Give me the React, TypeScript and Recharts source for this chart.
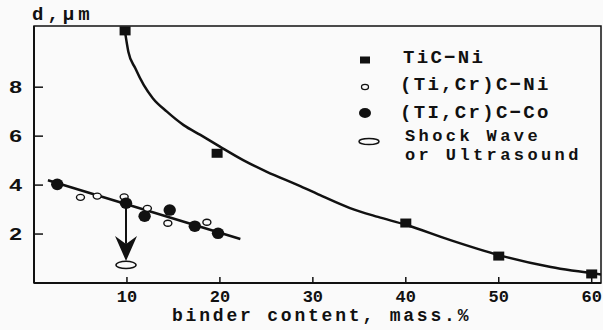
import React from 'react';
import { ComposedChart, Line, Scatter, XAxis, YAxis, ReferenceLine, ReferenceArea } from 'recharts';

const xTicks = [10, 20, 30, 40, 50, 60];
const yTicks = [2, 4, 6, 8];

const ticNiX = [9.8, 19.7, 40, 50, 60];
const ticNiY = [10.3, 5.3, 2.45, 1.1, 0.37];

const tiCrNiX = [5.0, 6.8, 9.7, 12.2, 14.4, 18.6];
const tiCrNiY = [3.5, 3.55, 3.52, 3.05, 2.44, 2.48];

const tiCrCoX = [2.5, 9.9, 11.9, 14.6, 17.3, 19.8];
const tiCrCoY = [4.03, 3.26, 2.73, 2.98, 2.32, 2.03];

const shockX = [9.9];
const shockY = [0.74];

const curveX = [9.8, 10.15, 10.9, 11.8, 12.8, 14.3, 16.1, 17.9, 20, 22.5, 25, 28.7, 31, 34, 37, 40, 44.8, 50, 55.6, 61];
const curveY = [10.25, 9.45, 8.77, 8.09, 7.54, 7.0, 6.45, 6.05, 5.57, 5.02, 4.55, 3.95, 3.55, 3.06, 2.7, 2.38, 1.75, 1.14, 0.65, 0.35];

const fitX = [1.5, 22.2];
const fitY = [4.2, 1.8];

const arrowX = [9.9];
const arrowTopY = [3.26];
const arrowTipY = [0.9];

const legendLabels = ['TiC\u2212Ni', '(Ti,Cr)C\u2212Ni', '(TI,Cr)C\u2212Co', 'Shock Wave', 'or Ultrasound'];
const xLabel = 'binder content, mass.%';
const yLabel = 'd,\u03bcm';

const toPts = (xs: number[], ys: number[]) => xs.map((x, i) => ({ x, y: ys[i] }));

const INK = '#111';
const MONO = "'Liberation Mono', 'DejaVu Sans Mono', monospace";
const SANS = "'Liberation Sans', Arial, sans-serif";

const YTick = (props: any) => {
  const { x, y, payload } = props;
  return (
    <g>
      <line x1={x} x2={x + 9} y1={y} y2={y} stroke={INK} strokeWidth={1.5} />
      <g transform={`translate(${x - 18.5},${y + 6}) scale(1.35,1)`}>
        <text x={0} y={0} textAnchor="middle" fontFamily={SANS} fontWeight={700} fontSize={17} fill={INK}>
          {payload.value}
        </text>
      </g>
    </g>
  );
};

const XTick = (props: any) => {
  const { x, y, payload } = props;
  return (
    <g>
      <line x1={x} x2={x} y1={y} y2={y - 6} stroke={INK} strokeWidth={1.5} />
      <text x={x} y={y + 19} textAnchor="middle" fontFamily={MONO} fontWeight="bold" fontSize={17} fill={INK}>
        {payload.value}
      </text>
    </g>
  );
};

const SquareShape = (p: any) => <rect x={p.cx - 5.5} y={p.cy - 4.5} width={11} height={9} fill={INK} />;
const OpenCircle = (p: any) => (
  <ellipse cx={p.cx} cy={p.cy} rx={4} ry={3} fill="#fafafa" stroke={INK} strokeWidth={1.4} />
);
const FilledCircle = (p: any) => <ellipse cx={p.cx} cy={p.cy} rx={6.2} ry={5.8} fill={INK} />;
const ShockShape = (p: any) => (
  <ellipse cx={p.cx} cy={p.cy} rx={10} ry={3.6} fill="#fafafa" stroke={INK} strokeWidth={1.5} />
);
const ArrowHead = (p: any) => {
  const { cx, cy } = p;
  return <polygon points={`${cx},${cy} ${cx - 11},${cy - 25} ${cx},${cy - 17} ${cx + 11},${cy - 25}`} fill={INK} />;
};

export default function App() {
  const rows = [63, 90, 118, 141, 160];
  return (
    <div style={{ position: 'absolute', left: 0, top: 0, width: 603, height: 330, background: '#fafafa' }}>
      <ComposedChart width={603} height={330} margin={{ top: 26, right: 2, bottom: 17, left: 4 }}>
        <XAxis
          type="number"
          dataKey="x"
          domain={[0, 61]}
          ticks={xTicks}
          allowDataOverflow
          height={30}
          tickSize={0}
          tickMargin={0}
          tick={<XTick />}
          axisLine={{ stroke: INK, strokeWidth: 2 }}
          tickLine={false}
        />
        <YAxis
          type="number"
          dataKey="y"
          domain={[0, 10.5]}
          ticks={yTicks}
          allowDataOverflow
          width={30}
          tickSize={0}
          tickMargin={0}
          tick={<YTick />}
          axisLine={{ stroke: INK, strokeWidth: 2 }}
          tickLine={false}
        />
        <ReferenceArea x1={0} x2={61} y1={0} y2={10.5} fill="none" stroke={INK} strokeWidth={1.5} fillOpacity={0} />
        <Line
          data={toPts(curveX, curveY)}
          dataKey="y"
          type="monotone"
          stroke={INK}
          strokeWidth={2.5}
          dot={false}
          activeDot={false}
          isAnimationActive={false}
        />
        <Line
          data={toPts(fitX, fitY)}
          dataKey="y"
          type="linear"
          stroke={INK}
          strokeWidth={2.5}
          dot={false}
          activeDot={false}
          isAnimationActive={false}
        />
        <ReferenceLine
          segment={[
            { x: arrowX[0], y: arrowTopY[0] },
            { x: arrowX[0], y: 1.6 },
          ]}
          stroke={INK}
          strokeWidth={2}
        />
        <Scatter data={toPts(arrowX, arrowTipY)} dataKey="y" shape={<ArrowHead />} isAnimationActive={false} />
        <Scatter data={toPts(shockX, shockY)} dataKey="y" shape={<ShockShape />} isAnimationActive={false} />
        <Scatter data={toPts(tiCrNiX, tiCrNiY)} dataKey="y" shape={<OpenCircle />} isAnimationActive={false} />
        <Scatter data={toPts(tiCrCoX, tiCrCoY)} dataKey="y" shape={<FilledCircle />} isAnimationActive={false} />
        <Scatter data={toPts(ticNiX, ticNiY)} dataKey="y" shape={<SquareShape />} isAnimationActive={false} />
      </ComposedChart>
      <svg
        width={603}
        height={330}
        style={{ position: 'absolute', left: 0, top: 0, pointerEvents: 'none' }}
      >
        <text x={32} y={20} fontFamily={MONO} fontWeight="bold" fontSize={19} letterSpacing={4} fill={INK}>
          {yLabel}
        </text>
        <text x={172} y={321} fontFamily={MONO} fontWeight="bold" fontSize={18} letterSpacing={2.8} fill={INK}>
          {xLabel}
        </text>
        <rect x={360} y={56.5} width={10} height={7} fill={INK} />
        <ellipse cx={365} cy={87} rx={3.5} ry={2.6} fill="#fafafa" stroke={INK} strokeWidth={1.3} />
        <ellipse cx={365} cy={113} rx={6} ry={5} fill={INK} />
        <ellipse cx={369} cy={141.5} rx={10} ry={3} fill="#fafafa" stroke={INK} strokeWidth={1.5} />
        {legendLabels.map((t, i) => (
          <text
            key={t}
            x={i >= 3 ? 405 : i === 0 ? 403 : 400}
            y={rows[i]}
            fontFamily={MONO}
            fontWeight="bold"
            fontSize={i >= 3 ? 17 : 19}
            letterSpacing={i >= 3 ? 3.4 : 2.3}
            fill={INK}
          >
            {t}
          </text>
        ))}
      </svg>
    </div>
  );
}
